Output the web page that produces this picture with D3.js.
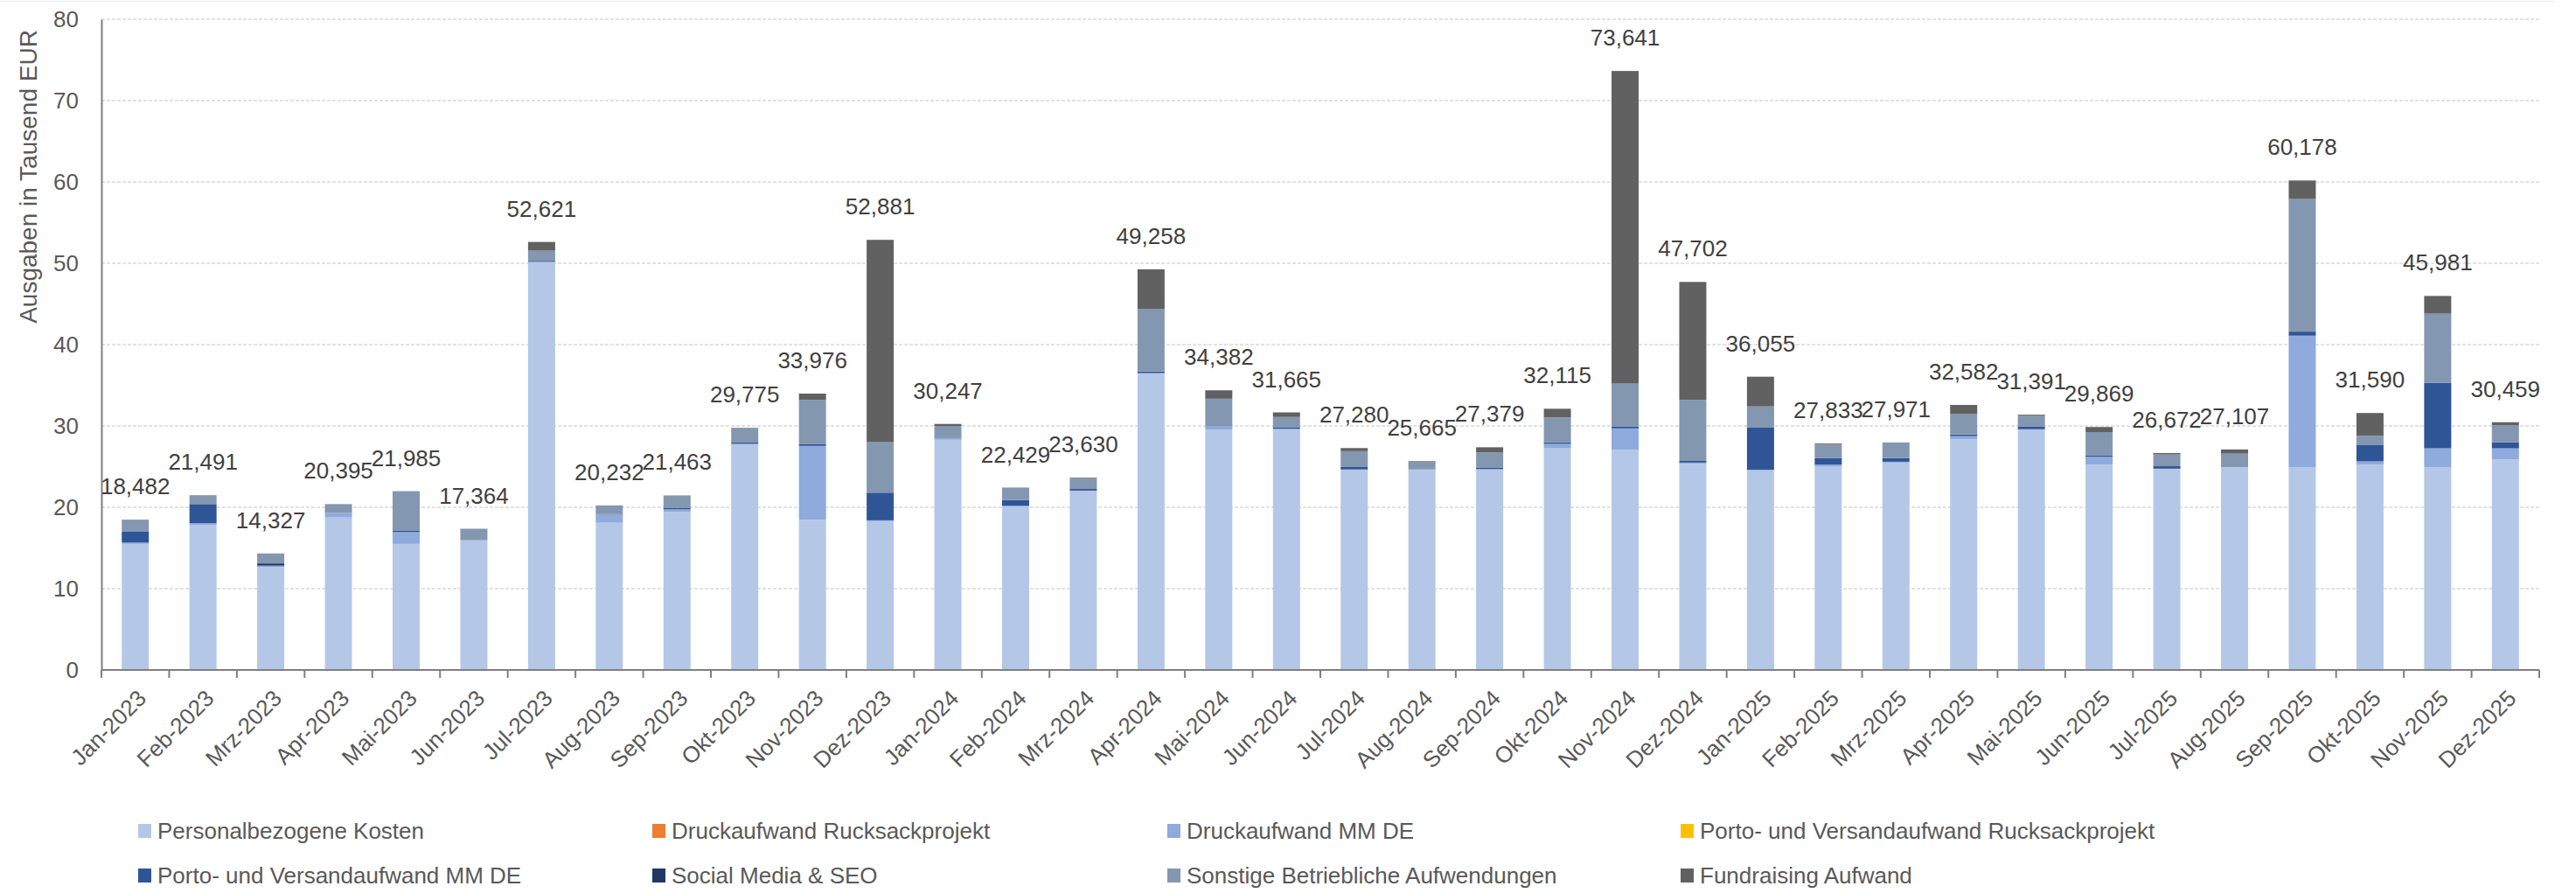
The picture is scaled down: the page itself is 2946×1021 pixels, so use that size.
<!DOCTYPE html>
<html>
  <head>
    <meta charset="utf-8" />
    <title>Ausgaben</title>
    <script src="https://d3js.org/d3.v7.min.js"></script>
    <style>
      body { margin: 0; background: #fff; }
      svg { display: block; font-family: "Liberation Sans", Arial, sans-serif; }
    </style>
  </head>
  <body>
    <svg id="chart"></svg>
    <script>
        var years = ["2023", "2024", "2025"];
        var monthNames = ["Jan", "Feb", "Mrz", "Apr", "Mai", "Jun", "Jul", "Aug", "Sep", "Okt", "Nov", "Dez"];
        var months = [];
        years.forEach(function (y) {
            monthNames.forEach(function (m) { months.push(m + "-" + y); });
        });

        var seriesNames = [
            "Personalbezogene Kosten",
            "Druckaufwand Rucksackprojekt",
            "Druckaufwand MM DE",
            "Porto- und Versandaufwand Rucksackprojekt",
            "Porto- und Versandaufwand MM DE",
            "Social Media & SEO",
            "Sonstige Betriebliche Aufwendungen",
            "Fundraising Aufwand"
        ];
        var seriesColors = ["#b4c7e7", "#ed7d31", "#8faadc", "#ffc000", "#2f5597", "#1f3864", "#8497b0", "#616161"];

        // values in thousand EUR
        var personal = [15.5, 17.8, 12.75, 18.75, 15.5, 15.95, 50.1, 18.1, 19.45, 27.7, 18.45, 18.3,
            28.3, 20.1, 22.0, 36.4, 29.55, 29.6, 24.6, 24.6, 24.65, 27.25, 27.1, 25.35,
            24.6, 25.0, 25.5, 28.35, 29.5, 25.25, 24.7, 24.9, 24.9, 25.25, 24.9, 25.9];
        var druckRucksack = [0, 0, 0, 0, 0, 0, 0, 0, 0, 0, 0, 0,
            0, 0, 0, 0, 0, 0, 0, 0, 0, 0, 0, 0,
            0, 0, 0, 0, 0, 0, 0, 0, 0, 0, 0, 0];
        var druckMM = [0.15, 0.25, 0, 0.55, 1.45, 0, 0.1, 1.05, 0.3, 0.1, 9.1, 0.1,
            0.2, 0.1, 0.05, 0.1, 0.45, 0.05, 0.05, 0.05, 0.05, 0.55, 2.6, 0.15,
            0, 0.25, 0.1, 0.4, 0.1, 0.95, 0.05, 0.05, 16.2, 0.4, 2.35, 1.35];
        var portoRucksack = [0, 0, 0, 0, 0, 0, 0, 0, 0, 0, 0, 0,
            0, 0, 0, 0, 0, 0, 0, 0, 0, 0, 0, 0,
            0, 0, 0, 0, 0, 0, 0, 0, 0, 0, 0, 0];
        var portoMM = [1.4, 2.35, 0.1, 0, 0.15, 0, 0.1, 0, 0.2, 0.15, 0.2, 3.4,
            0, 0.7, 0.2, 0.2, 0, 0.2, 0.3, 0, 0.2, 0.2, 0.2, 0.2,
            5.25, 0.8, 0.45, 0.2, 0.3, 0.2, 0.3, 0, 0.5, 2.05, 8.05, 0.75];
        var socialMedia = [0, 0, 0.25, 0, 0, 0, 0, 0, 0, 0, 0, 0,
            0, 0, 0, 0, 0, 0, 0, 0, 0, 0, 0, 0,
            0, 0, 0, 0, 0, 0, 0, 0, 0, 0, 0, 0];
        var sonstige = [1.432, 1.091, 1.227, 1.095, 4.885, 1.414, 1.25, 1.082, 1.513, 1.825, 5.45, 6.2,
            1.5, 1.529, 1.28, 7.7, 3.35, 1.25, 1.95, 0.9, 1.85, 3.05, 5.3, 7.5,
            2.55, 1.65, 1.921, 2.5, 1.4, 2.85, 1.45, 1.65, 16.3, 1.1, 8.5, 2.1];
        var fundraising = [0, 0, 0, 0, 0, 0, 1.071, 0, 0, 0, 0.776, 24.881,
            0.247, 0, 0.1, 4.858, 1.032, 0.565, 0.38, 0.115, 0.629, 1.065, 38.441, 14.502,
            3.655, 0.133, 0, 1.132, 0.091, 0.619, 0.172, 0.507, 2.278, 2.79, 2.181, 0.359];

        // totals in EUR as shown in the labels
        var totals = [18482, 21491, 14327, 20395, 21985, 17364, 52621, 20232, 21463, 29775, 33976, 52881,
            30247, 22429, 23630, 49258, 34382, 31665, 27280, 25665, 27379, 32115, 73641, 47702,
            36055, 27833, 27971, 32582, 31391, 29869, 26672, 27107, 60178, 31590, 45981, 30459];

        var yTicks = [0, 10, 20, 30, 40, 50, 60, 70, 80];

        var allSeries = [personal, druckRucksack, druckMM, portoRucksack, portoMM, socialMedia, sonstige, fundraising];

        var rows = months.map(function (m, i) {
            var r = { month: m };
            seriesNames.forEach(function (s, k) { r[s] = allSeries[k][i]; });
            return r;
        });

        var W = 2946, H = 1021;
        var margin = { left: 116, right: 42, top: 22, bottom: 255 };

        var svg = d3.select("#chart").attr("width", W).attr("height", H);

        // faint chart border at top
        svg.append("line")
            .attr("x1", 0).attr("x2", 2922).attr("y1", 1.5).attr("y2", 1.5)
            .attr("stroke", "#eeeeee").attr("stroke-width", 1.5);

        var x = d3.scaleBand().domain(months).range([margin.left, W - margin.right]).padding(0);
        var y = d3.scaleLinear().domain([0, 80]).range([H - margin.bottom, margin.top]);

        // gridlines
        svg.append("g").selectAll("line")
            .data(yTicks.filter(function (t) { return t > 0; }))
            .enter().append("line")
            .attr("x1", margin.left).attr("x2", W - margin.right)
            .attr("y1", function (d) { return y(d); })
            .attr("y2", function (d) { return y(d); })
            .attr("stroke", "#d9d9d9")
            .attr("stroke-width", 1.5)
            .attr("stroke-dasharray", "4,2");

        var stack = d3.stack().keys(seriesNames);
        var layers = stack(rows);

        var barW = x.bandwidth() * 0.4;

        svg.append("g").selectAll("g")
            .data(layers)
            .enter().append("g")
            .attr("fill", function (d, i) { return seriesColors[i]; })
            .selectAll("rect")
            .data(function (d) { return d; })
            .enter().append("rect")
            .attr("x", function (d) { return x(d.data.month) + (x.bandwidth() - barW) / 2; })
            .attr("width", barW)
            .attr("y", function (d) { return y(d[1]); })
            .attr("height", function (d) { return Math.max(0, y(d[0]) - y(d[1])); });

        // y axis
        var yAxis = d3.axisLeft(y).tickValues(yTicks).tickSize(0).tickPadding(26);
        var gy = svg.append("g")
            .attr("transform", "translate(" + margin.left + ",0)")
            .call(yAxis);
        gy.select(".domain").attr("stroke", "#7f7f7f").attr("stroke-width", 2);
        gy.selectAll("text").attr("fill", "#595959").style("font-size", "26px");

        // x axis with ticks on the category boundaries
        var gx = svg.append("g").attr("transform", "translate(0," + y(0) + ")");
        gx.append("line")
            .attr("x1", margin.left).attr("x2", W - margin.right)
            .attr("stroke", "#7f7f7f").attr("stroke-width", 2);
        var bounds = months.map(function (m) { return x(m); }).concat([W - margin.right]);
        gx.selectAll("line.tick")
            .data(bounds)
            .enter().append("line")
            .attr("class", "tick")
            .attr("x1", function (d) { return d; }).attr("x2", function (d) { return d; })
            .attr("y1", 0).attr("y2", 9)
            .attr("stroke", "#7f7f7f").attr("stroke-width", 2);
        gx.selectAll("text")
            .data(months)
            .enter().append("text")
            .attr("transform", function (d) {
                return "translate(" + (x(d) + x.bandwidth() / 2 + 14) + "," + 34 + ") rotate(-45)";
            })
            .attr("text-anchor", "end")
            .attr("fill", "#595959")
            .style("font-size", "26px")
            .text(function (d) { return d; });

        // y axis title
        svg.append("text")
            .attr("transform", "translate(42,202) rotate(-90)")
            .attr("text-anchor", "middle")
            .attr("fill", "#595959")
            .style("font-size", "28px")
            .text("Ausgaben in Tausend EUR");

        // total labels
        var fmt = d3.format(",");
        svg.append("g").selectAll("text")
            .data(months)
            .enter().append("text")
            .attr("x", function (d) { return x(d) + x.bandwidth() / 2; })
            .attr("y", function (d, i) { return y(totals[i] / 1000) - 38; })
            .attr("dy", "0.35em")
            .attr("text-anchor", "middle")
            .attr("fill", "#404040")
            .style("font-size", "26px")
            .text(function (d, i) { return fmt(totals[i]); });

        // legend
        var legendX = [158, 746, 1335, 1922];
        var legendY = [950, 1001];
        var legend = svg.append("g").selectAll("g")
            .data(seriesNames)
            .enter().append("g")
            .attr("transform", function (d, i) {
                return "translate(" + legendX[i % 4] + "," + legendY[Math.floor(i / 4)] + ")";
            });
        legend.append("rect")
            .attr("x", 0).attr("y", -8)
            .attr("width", 15).attr("height", 16)
            .attr("fill", function (d, i) { return seriesColors[i]; });
        legend.append("text")
            .attr("x", 22).attr("y", 0)
            .attr("dy", "0.35em")
            .attr("fill", "#595959")
            .style("font-size", "26px")
            .text(function (d) { return d; });
    </script>
  </body>
</html>
